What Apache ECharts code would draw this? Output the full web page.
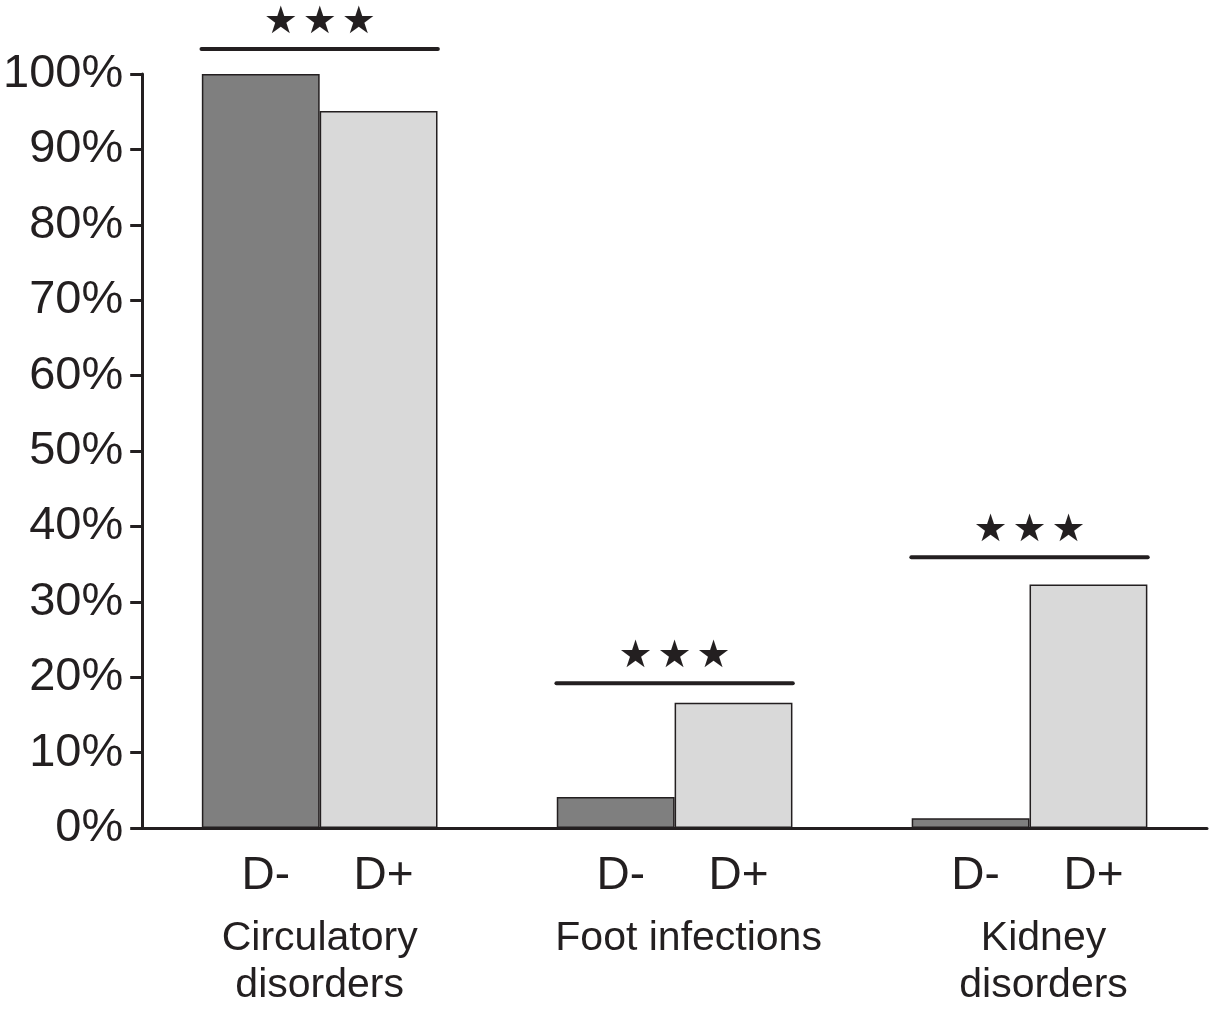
<!DOCTYPE html>
<html>
<head>
<meta charset="utf-8">
<script src="https://cdn.jsdelivr.net/npm/echarts@6/dist/echarts.min.js"></script>
<style>
html,body{margin:0;padding:0;background:#fff;}
#chart{width:1215px;height:1009px;}
</style>
</head>
<body>
<div id="chart"></div>
<script>
const categories = ['Circulatory\ndisorders', 'Foot infections', 'Kidney\ndisorders'];
const seriesNames = ['D-', 'D+'];
const dMinus = [100, 4.1, 1.3];
const dPlus = [95.1, 16.6, 32.3];
const sigLine = [103.3, 19.2, 35.9];
const sigStars = [3, 3, 3];
const yTicks = [0, 10, 20, 30, 40, 50, 60, 70, 80, 90, 100];

const ink = '#231f20';
const font = 'Arial, "Liberation Sans", sans-serif';

const chart = echarts.init(document.getElementById('chart'), null, {renderer: 'canvas'});

const barLabel = {
  show: true,
  position: 'bottom',
  distance: 25,
  offset: [5, 0],
  formatter: '{a}',
  fontFamily: font,
  fontSize: 46,
  color: ink
};

const catTextStyle = {fontFamily: font, fontSize: 41, lineHeight: 47, color: ink};

chart.setOption({
  animation: false,
  backgroundColor: '#ffffff',
  grid: {left: 141, right: 8, top: 74, bottom: 180, containLabel: false},
  xAxis: {
    type: 'category',
    data: categories,
    axisLine: {show: true, onZero: false, lineStyle: {color: ink, width: 3}},
    axisTick: {show: false},
    axisLabel: {
      margin: 87,
      fontFamily: font,
      fontSize: 41,
      lineHeight: 47,
      color: ink,
      interval: 0,
      formatter: function (value, index) {
        const key = index === 0 ? 'a' : 'b';
        return value.split('\n').map(s => '{' + key + '|' + s + '}').join('\n');
      },
      rich: {
        a: Object.assign({}, catTextStyle),
        b: Object.assign({padding: [0, 0, 0, 28]}, catTextStyle)
      }
    },
    splitLine: {show: false}
  },
  yAxis: {
    type: 'value',
    min: yTicks[0],
    max: yTicks[yTicks.length - 1],
    interval: 10,
    axisLine: {show: true, lineStyle: {color: ink, width: 3}},
    axisTick: {show: true, inside: false, length: 12, lineStyle: {color: ink, width: 3}},
    axisLabel: {
      formatter: '{value}%',
      fontFamily: font,
      fontSize: 47,
      color: ink,
      margin: 19
    },
    splitLine: {show: false}
  },
  series: [
    {
      name: seriesNames[0],
      type: 'bar',
      data: dMinus,
      barWidth: '33.2%',
      barGap: '0%',
      itemStyle: {color: '#7f7f7f', borderColor: ink, borderWidth: 1.5},
      label: barLabel
    },
    {
      name: seriesNames[1],
      type: 'bar',
      data: dPlus,
      barWidth: '33.2%',
      barGap: '0%',
      itemStyle: {color: '#d9d9d9', borderColor: ink, borderWidth: 1.5},
      label: barLabel
    },
    {
      name: 'significance',
      type: 'custom',
      clip: false,
      silent: true,
      data: sigLine.map((v, i) => [i, v]),
      renderItem: function (params, api) {
        const c = api.coord([api.value(0), api.value(1)]);
        const bw = api.size([1, 0])[0];
        const half = bw * 0.333;
        const n = sigStars[params.dataIndex];
        const children = [
          {
            type: 'line',
            shape: {x1: c[0] - half, y1: c[1], x2: c[0] + half, y2: c[1]},
            style: {stroke: ink, lineWidth: 4, lineCap: 'round'}
          }
        ];
        for (let k = 0; k < n; k++) {
          children.push({
            type: 'text',
            x: c[0] + (k - (n - 1) / 2) * 39,
            y: c[1] - 26,
            style: {
              text: '★',
              font: '38px "DejaVu Sans"',
              fill: ink,
              align: 'center',
              verticalAlign: 'middle'
            }
          });
        }
        return {type: 'group', children: children};
      }
    }
  ]
});
</script>
</body>
</html>
